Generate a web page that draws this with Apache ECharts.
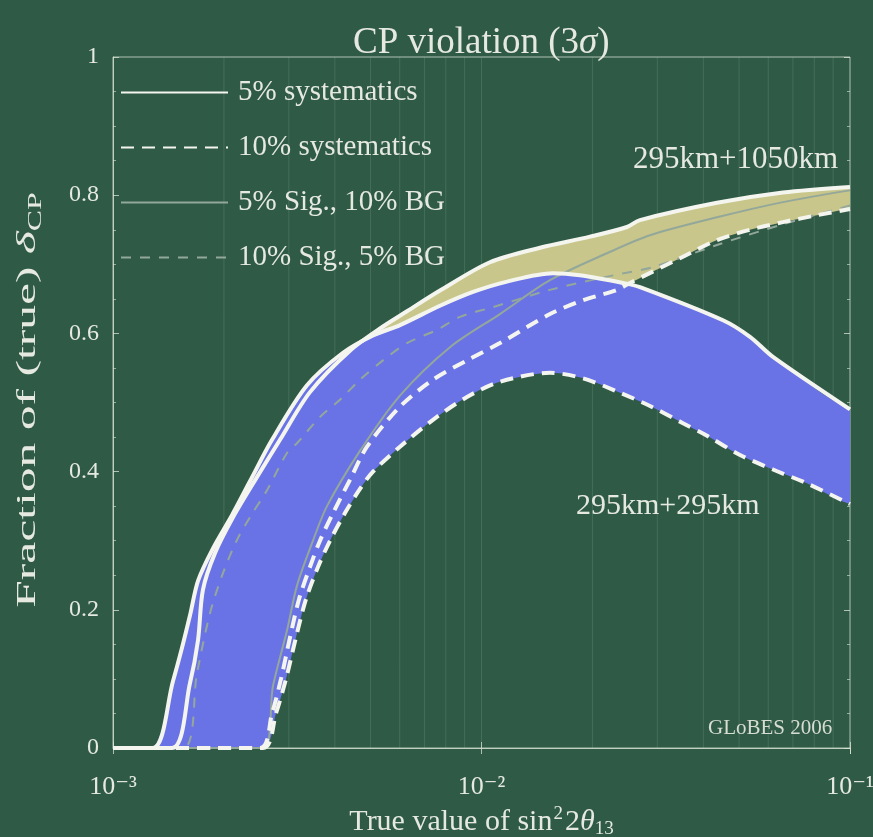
<!DOCTYPE html>
<html>
<head>
<meta charset="utf-8">
<script src="https://cdn.jsdelivr.net/npm/echarts@6/dist/echarts.min.js"></script>
<style>
html,body{margin:0;padding:0;background:#2e5a46;}
#c{width:873px;height:837px;}
</style>
</head>
<body>
<div id="c"></div>
<script>
// ---- data (x = true sin^2 2theta13, y = fraction of true deltaCP) ----
const xTicks = [0.001, 0.01, 0.1];
const xTickLabels = ['10\u207B\u00B3', '10\u207B\u00B2', '10\u207B\u00B9'];
const yTicks = [0, 0.2, 0.4, 0.6, 0.8, 1];
const gridX = [0.002,0.003,0.004,0.005,0.006,0.007,0.008,0.009,0.01,0.02,0.03,0.04,0.05,0.06,0.07,0.08,0.09];

// 295km+1050km, 5% systematics (solid, upper edge of khaki band)
const s1050 = [[0.001,0],[1.446e-3,0],[1.618e-3,0.094],[1.701e-3,0.156],[1.754e-3,0.229],[1.891e-3,0.282],[2.117e-3,0.334],[2.458e-3,0.392],[2.839e-3,0.446],[3.424e-3,0.515],[4.396e-3,0.575],[5.403e-3,0.61],[6.278e-3,0.632],[7.716e-3,0.662],[1.054e-2,0.703],[1.442e-2,0.724],[1.97e-2,0.74],[2.482e-2,0.754],[2.692e-2,0.764],[4.356e-2,0.789],[6.577e-2,0.804],[0.1,0.812]];
// 295km+1050km, 10% systematics (dashed, lower edge of khaki band)
const d1050 = [[0.001,0],[2.505e-3,0],[2.701e-3,0.05],[2.857e-3,0.1],[3.022e-3,0.16],[3.196e-3,0.215],[3.424e-3,0.262],[3.645e-3,0.3],[3.954e-3,0.34],[4.396e-3,0.388],[4.89e-3,0.436],[6.009e-3,0.494],[7.385e-3,0.533],[9.133e-3,0.561],[1.122e-2,0.586],[1.534e-2,0.628],[1.886e-2,0.648],[2.332e-2,0.663],[2.529e-2,0.673],[3.522e-2,0.711],[4.356e-2,0.735],[5.354e-2,0.75],[6.577e-2,0.761],[8.135e-2,0.771],[0.1,0.78]];
// 295km+295km, 5% systematics (solid, upper edge of blue band)
const s295 = [[0.001,0],[1.284e-3,0],[1.455e-3,0.097],[1.539e-3,0.145],[1.618e-3,0.192],[1.701e-3,0.242],[1.868e-3,0.289],[2.103e-3,0.337],[2.353e-3,0.386],[2.701e-3,0.446],[3.361e-3,0.525],[4.208e-3,0.572],[5.077e-3,0.597],[6.009e-3,0.612],[7.716e-3,0.64],[9.482e-3,0.66],[1.173e-2,0.675],[1.563e-2,0.687],[1.85e-2,0.684],[2.421e-2,0.673],[2.692e-2,0.667],[4.523e-2,0.619],[5.354e-2,0.595],[6.18e-2,0.566],[0.1,0.49]];
// 295km+295km, 10% systematics (dashed, lower edge of blue band)
const d295 = [[0.001,0],[2.553e-3,0],[2.769e-3,0.05],[2.948e-3,0.1],[3.137e-3,0.16],[3.338e-3,0.215],[3.6e-3,0.262],[3.881e-3,0.3],[4.261e-3,0.34],[4.68e-3,0.375],[5.077e-3,0.4],[6.009e-3,0.436],[7.385e-3,0.475],[9.133e-3,0.508],[1.122e-2,0.53],[1.534e-2,0.543],[1.886e-2,0.535],[2.332e-2,0.516],[2.866e-2,0.495],[3.522e-2,0.47],[4.093e-2,0.452],[5.029e-2,0.424],[6.18e-2,0.403],[7.64e-2,0.383],[0.1,0.353]];
// 5% Sig., 10% BG (thin grey solid)
const sig5bg10 = [[0.001,0],[2.553e-3,0],[2.718e-3,0.09],[2.966e-3,0.17],[3.157e-3,0.235],[3.489e-3,0.3],[3.808e-3,0.35],[4.68e-3,0.43],[6.009e-3,0.51],[8.212e-3,0.58],[1.122e-2,0.628],[1.534e-2,0.677],[2.191e-2,0.716],[2.866e-2,0.742],[4.356e-2,0.768],[6.577e-2,0.79],[0.1,0.807]];
// 10% Sig., 5% BG (thin grey dashed)
const sig10bg5 = [[0.001,0],[1.549e-3,0],[1.69e-3,0.108],[1.833e-3,0.195],[1.988e-3,0.253],[2.17e-3,0.301],[2.353e-3,0.334],[2.618e-3,0.373],[2.966e-3,0.427],[3.157e-3,0.441],[3.645e-3,0.479],[4.13e-3,0.504],[4.68e-3,0.533],[5.403e-3,0.561],[6.278e-3,0.586],[7.571e-3,0.605],[8.741e-3,0.624],[1.074e-2,0.638],[1.534e-2,0.663],[2.275e-2,0.684],[2.92e-2,0.696],[4.356e-2,0.728],[6.577e-2,0.758],[0.1,0.785]];

const legendNames = ['5% systematics','10% systematics','5% Sig., 10% BG','10% Sig., 5% BG'];

const FONT = "'Liberation Serif','DejaVu Serif',serif";
const TXT = '#e6e9e0';
const WHITE = '#f5f5ef';
const GREY = '#93a79a';
const BLUE = '#6a73e6';
const KHAKI = '#c8c68b';
const FRAME = 'rgba(220,228,214,0.75)';
const NONE = 'rgba(0,0,0,0)';
const SMOOTH = 0.3;

// Band polygon between an upper and a lower curve; the closing edge is pushed
// past the right border (outside the clip) so the smoothing never bulges inside.
function band(upper, lower, color) {
  return function (params, api) {
    const up = upper.map(p => api.coord(p));
    const lo = lower.slice().reverse().map(p => api.coord(p));
    const uEnd = up[up.length - 1], lStart = lo[0];
    const pts = up.concat([[uEnd[0] + 40, uEnd[1]], [lStart[0] + 40, lStart[1]]], lo);
    return { type: 'polygon', shape: { points: pts, smooth: SMOOTH }, style: { fill: color }, silent: true };
  };
}
function vgrid(params, api) {
  const v = api.value(0);
  const a = api.coord([v, 0]), b = api.coord([v, 1]);
  return { type: 'line', shape: { x1: a[0], y1: a[1], x2: b[0], y2: b[1] },
           style: { stroke: 'rgba(215,232,215,0.14)', lineWidth: 1 }, silent: true };
}
function lineSeries(name, data, color, width, type, z) {
  return { type: 'line', name: name, data: data, showSymbol: false, symbol: 'none', z: z, smooth: SMOOTH,
    lineStyle: { color: color, width: width, type: type }, itemStyle: { color: NONE } };
}

const chart = echarts.init(document.getElementById('c'));
chart.setOption({
  backgroundColor: '#2e5a46',
  animation: false,
  title: {
    text: '{a|CP violation (3}{i|\u03C3}{a|)}',
    left: 348, top: 20,
    textStyle: { rich: {
      a: { fontFamily: FONT, fontSize: 37, color: TXT, fontWeight: 'normal' },
      i: { fontFamily: FONT, fontSize: 37, color: TXT, fontStyle: 'italic', fontWeight: 'normal' }
    } }
  },
  grid: { left: 113, right: 23, top: 57, bottom: 89, show: true, borderColor: FRAME, borderWidth: 1, outerBoundsMode: 'none', containLabel: false },
  legend: {
    orient: 'vertical', left: 120, top: 78, itemWidth: 107, itemHeight: 14, itemGap: 26,
    padding: 0, selectedMode: false,
    data: legendNames,
    textStyle: { color: TXT, fontFamily: FONT, fontSize: 29, padding: [0,0,0,5] }
  },
  xAxis: [{
    type: 'log', logBase: 10, min: 0.001, max: 0.1,
    axisLine: { show: true, lineStyle: { color: FRAME } },
    axisTick: { show: true, inside: true, length: 6, lineStyle: { color: FRAME } },
    splitLine: { show: false },
    axisLabel: {
      color: TXT, fontFamily: FONT, fontSize: 26, margin: 26,
      formatter: function (v) { const i = xTicks.findIndex(t => Math.abs(t - v) / t < 1e-6); return i >= 0 ? xTickLabels[i] : ''; }
    },
    name: '{a|True value of sin}{s|2}{a|2}{i|\u03B8}{b|13}',
    nameLocation: 'middle', nameGap: 57,
    nameTextStyle: { rich: {
      a: { fontFamily: FONT, fontSize: 30, color: TXT, lineHeight: 34 },
      i: { fontFamily: FONT, fontSize: 30, color: TXT, fontStyle: 'italic', lineHeight: 34 },
      s: { fontFamily: FONT, fontSize: 19, color: TXT, verticalAlign: 'top', lineHeight: 34, padding: [0,2,0,1] },
      b: { fontFamily: FONT, fontSize: 19, color: TXT, verticalAlign: 'bottom', lineHeight: 34 }
    } }
  }, {
    type: 'log', logBase: 10, min: 0.001, max: 0.1, position: 'top',
    axisLine: { show: false }, axisLabel: { show: false }, splitLine: { show: false },
    axisTick: { show: true, inside: true, length: 6, lineStyle: { color: FRAME } }
  }],
  yAxis: [{
    type: 'value', min: 0, max: 1, interval: 0.2,
    axisLine: { show: true, lineStyle: { color: FRAME } },
    axisTick: { show: true, inside: true, length: 6, lineStyle: { color: FRAME } },
    minorTick: { show: true, splitNumber: 4, length: 3, lineStyle: { color: 'rgba(220,228,214,0.6)' } },
    splitLine: { show: false },
    axisLabel: { color: TXT, fontFamily: FONT, fontSize: 24, margin: 14, formatter: v => String(+v.toFixed(1)) }
  }, {
    type: 'value', min: 0, max: 1, interval: 0.2, position: 'right',
    axisLine: { show: false }, axisLabel: { show: false }, splitLine: { show: false },
    axisTick: { show: true, inside: true, length: 6, lineStyle: { color: FRAME } },
    minorTick: { show: true, splitNumber: 4, length: 3, lineStyle: { color: 'rgba(220,228,214,0.6)' } }
  }],
  graphic: [
    { type: 'text', x: 28, y: 400, rotation: Math.PI / 2, scaleX: 1.77,
      style: { text: '{a|Fraction of (true) }{i|\u03B4}{b|CP}', align: 'center', verticalAlign: 'middle',
        rich: {
          a: { fontFamily: FONT, fontSize: 28, fill: TXT, lineHeight: 34 },
          i: { fontFamily: FONT, fontSize: 28, fill: TXT, fontStyle: 'italic', lineHeight: 34 },
          b: { fontFamily: FONT, fontSize: 18, fill: TXT, verticalAlign: 'bottom', lineHeight: 34 }
        } } },
    { type: 'text', left: 633, top: 144, style: { text: '295km+1050km', fill: TXT, font: "31px 'Liberation Serif'" } },
    { type: 'text', left: 576, top: 491, style: { text: '295km+295km', fill: TXT, font: "30px 'Liberation Serif'" } },
    { type: 'text', left: 708, top: 718, style: { text: 'GLoBES 2006', fill: '#d8ddd2', font: "21px 'Liberation Serif'" } }
  ],
  series: [
    { type: 'custom', name: 'grid', renderItem: vgrid, data: gridX.map(v => [v]), encode: { x: 0 }, z: 0, silent: true },
    { type: 'custom', name: 'band1050', renderItem: band(s1050, d1050, KHAKI), data: [[0.01, 0.5]], z: 1, clip: true, silent: true },
    { type: 'custom', name: 'band295', renderItem: band(s295, d295, BLUE), data: [[0.01, 0.5]], z: 2, clip: true, silent: true },
    lineSeries('5% Sig., 10% BG', sig5bg10, GREY, 2, 'solid', 3),
    lineSeries('10% Sig., 5% BG', sig10bg5, GREY, 2, [10, 9], 3),
    lineSeries('5% systematics', s1050, WHITE, 4, 'solid', 4),
    lineSeries('5% systematics', s295, WHITE, 4, 'solid', 4),
    lineSeries('10% systematics', d1050, WHITE, 4, [13, 8], 4),
    lineSeries('10% systematics', d295, WHITE, 4, [13, 8], 4)
  ]
});
</script>
</body>
</html>
